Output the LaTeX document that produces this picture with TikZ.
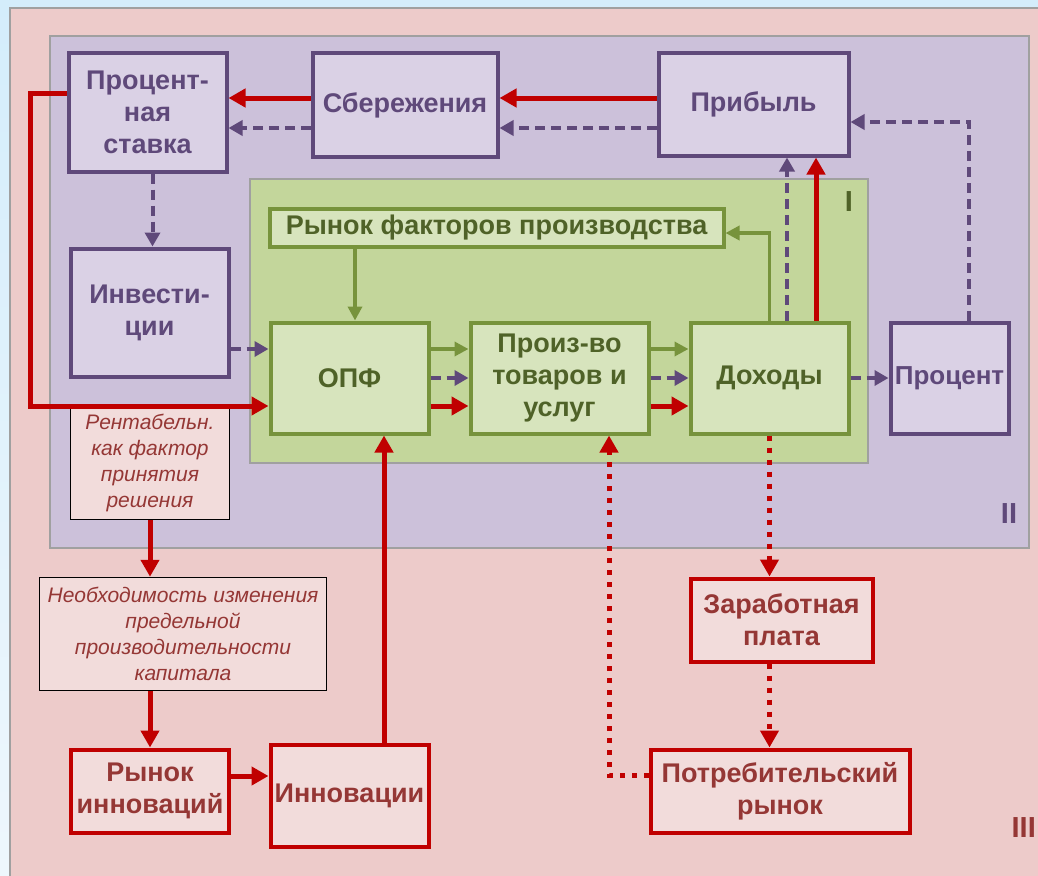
\documentclass[tikz,border=0pt]{standalone}
\usepackage{fontspec}
\setmainfont{Liberation Sans}
\usetikzlibrary{arrows.meta}
\definecolor{skytop}{HTML}{D4EDFB}
\definecolor{skybottom}{HTML}{EEF7FD}
\definecolor{pinkfill}{HTML}{EDCBCA}
\definecolor{lilacfill}{HTML}{CCC1DA}
\definecolor{meadowfill}{HTML}{C3D69B}
\definecolor{framegray}{HTML}{A0A0A0}
\definecolor{plumline}{HTML}{5F497A}
\definecolor{plumfill}{HTML}{DAD1E5}
\definecolor{leafline}{HTML}{77933C}
\definecolor{leaffill}{HTML}{D7E4BD}
\definecolor{leaftext}{HTML}{4F6228}
\definecolor{rubyline}{HTML}{C00000}
\definecolor{rubyfill}{HTML}{F2DCDB}
\definecolor{rubytext}{HTML}{953735}
\begin{document}
\begin{tikzpicture}[x=1pt, y=-1pt,
        box/.style={draw, line width=4pt, inner sep=0pt, align=center,
            font=\fontsize{27}{32}\selectfont\bfseries},
        plumbox/.style={box, draw=plumline, fill=plumfill, text=plumline},
        leafbox/.style={box, draw=leafline, fill=leaffill, text=leaftext},
        rubybox/.style={box, draw=rubyline, fill=rubyfill, text=rubytext},
        notebox/.style={draw=black, line width=1.5pt, fill=rubyfill, text=rubytext,
            inner sep=0pt, align=center, font=\fontsize{21}{26}\selectfont\itshape},
        redflow/.style={draw=rubyline, line width=5pt, -{Triangle[length=17pt, width=18pt]}},
        plumflow/.style={draw=plumline, line width=4pt, dash pattern=on 10pt off 6pt,
            -{Triangle[length=14pt, width=15pt]}},
        leafflow/.style={draw=leafline, line width=3.5pt, -{Triangle[length=14pt, width=14pt]}},
        dotflow/.style={draw=rubyline, line width=5pt, dash pattern=on 5pt off 7pt,
            -{Triangle[length=17pt, width=18pt]}},
        level/.style={font=\fontsize{29}{29}\selectfont\bfseries, inner sep=0pt}]
    \useasboundingbox (0, 0) rectangle (1038, 875);
    \shade [top color=skytop, bottom color=skybottom] (0, 0) rectangle (1038, 875);
    \draw [framegray, line width=1.5pt, fill=pinkfill] (10, 8) rectangle (1050, 890);
    \draw [framegray, line width=1.5pt, fill=lilacfill] (50, 36) rectangle (1029, 548);
    \draw [framegray, line width=1.5pt, fill=meadowfill] (250, 179) rectangle (868, 463);

    \node [plumbox, minimum width=158pt, minimum height=118pt] (rate) at (147.5, 112.5) {Процент-\\ная\\ставка};
    \node [plumbox, minimum width=185pt, minimum height=103pt] (savings) at (405, 105) {Сбережения};
    \node [plumbox, minimum width=190pt, minimum height=102pt] (profit) at (753.5, 104.5) {Прибыль};
    \node [plumbox, minimum width=158pt, minimum height=128pt] (invest) at (149.5, 312.5) {Инвести-\\ции};
    \node [plumbox, minimum width=118pt, minimum height=111pt, font=\fontsize{26}{32}\selectfont\bfseries] (percent) at (949.5, 378) {Процент};

    \node [leafbox, minimum width=454pt, minimum height=38pt] (factors) at (496.5, 227.5) {Рынок факторов производства};
    \node [leafbox, minimum width=158pt, minimum height=111pt] (opf) at (349.5, 378) {ОПФ};
    \node [leafbox, minimum width=178pt, minimum height=111pt] (prod) at (559.5, 378) {Произ-во\\товаров и\\услуг};
    \node [leafbox, minimum width=158pt, minimum height=111pt] (income) at (769.5, 378) {Доходы};

    \node [notebox, minimum width=159pt, minimum height=114pt] (rent) at (150, 462.5) {Рентабельн.\\как фактор\\принятия\\решения};
    \node [notebox, minimum width=287pt, minimum height=113pt] (need) at (183, 634) {Необходимость изменения\\предельной\\производительности\\капитала};

    \node [rubybox, minimum width=158pt, minimum height=83pt] (innmarket) at (150, 791) {Рынок\\инноваций};
    \node [rubybox, minimum width=158pt, minimum height=102pt] (innov) at (349.5, 795.5) {Инновации};
    \node [rubybox, minimum width=182pt, minimum height=83pt] (wage) at (781.5, 620) {Заработная\\плата};
    \node [rubybox, minimum width=259pt, minimum height=83pt] (consumer) at (780, 791) {Потребительский\\рынок};

    \node [level, text=leaftext] (lvlone) at (849, 202) {I};
    \node [level, text=plumline] (lvltwo) at (1009, 514) {II};
    \node [level, text=rubytext, anchor=east] (lvlthree) at (1036, 828) {III};

    \draw [redflow] ([yshift=7pt]savings.west) -- ([yshift=7pt]savings.west -| rate.east);
    \draw [plumflow] ([yshift=-23pt]savings.west) -- ([yshift=-23pt]savings.west -| rate.east);
    \draw [redflow] ([yshift=6.5pt]profit.west) -- ([yshift=6.5pt]profit.west -| savings.east);
    \draw [plumflow] ([yshift=-23.5pt]profit.west) -- ([yshift=-23.5pt]profit.west -| savings.east);

    \coordinate (redcorner) at (30, 406);
    \draw [redflow] ([yshift=19.5pt]rate.west) -| (redcorner) -- (redcorner -| opf.west);
    \draw [plumflow] ([xshift=5pt]rate.south) -- ([xshift=5pt]rate.south |- invest.north);
    \draw [plumflow] ([yshift=-36.5pt]invest.east) -- ([yshift=-36.5pt]invest.east -| opf.west);

    \draw [leafflow] ([xshift=-141.5pt]factors.south) -- ([xshift=-141.5pt]factors.south |- opf.north);
    \draw [leafflow] ([yshift=29pt]opf.east) -- ([yshift=29pt]opf.east -| prod.west);
    \draw [plumflow] (opf.east) -- (prod.west);
    \draw [redflow] ([yshift=-28pt]opf.east) -- ([yshift=-28pt]opf.east -| prod.west);
    \draw [leafflow] ([yshift=29pt]prod.east) -- ([yshift=29pt]prod.east -| income.west);
    \draw [plumflow] (prod.east) -- (income.west);
    \draw [redflow] ([yshift=-28pt]prod.east) -- ([yshift=-28pt]prod.east -| income.west);
    \draw [plumflow] (income.east) -- (percent.west);

    \draw [leafflow] (income.north) |- ([yshift=-5.5pt]factors.east);
    \draw [plumflow] ([xshift=17.5pt]income.north) -- ([xshift=17.5pt]income.north |- profit.south);
    \draw [redflow] ([xshift=46.5pt]income.north) -- ([xshift=46.5pt]income.north |- profit.south);
    \draw [plumflow] ([xshift=19.5pt]percent.north) |- ([yshift=-17.5pt]profit.east);

    \draw [redflow] (rent.south) -- (rent.south |- need.north);
    \draw [redflow] (innmarket.north |- need.south) -- (innmarket.north);
    \draw [redflow] ([yshift=15pt]innmarket.east) -- ([yshift=15pt]innmarket.east -| innov.west);
    \draw [redflow] ([xshift=34.5pt]innov.north) -- ([xshift=34.5pt]innov.north |- opf.south);

    \draw [dotflow] (income.south) -- (income.south |- wage.north);
    \draw [dotflow] (income.south |- wage.south) -- (income.south |- consumer.north);
    \draw [dotflow] ([yshift=16pt]consumer.west) -| ([xshift=49.5pt]prod.south);
\end{tikzpicture}
\end{document}
